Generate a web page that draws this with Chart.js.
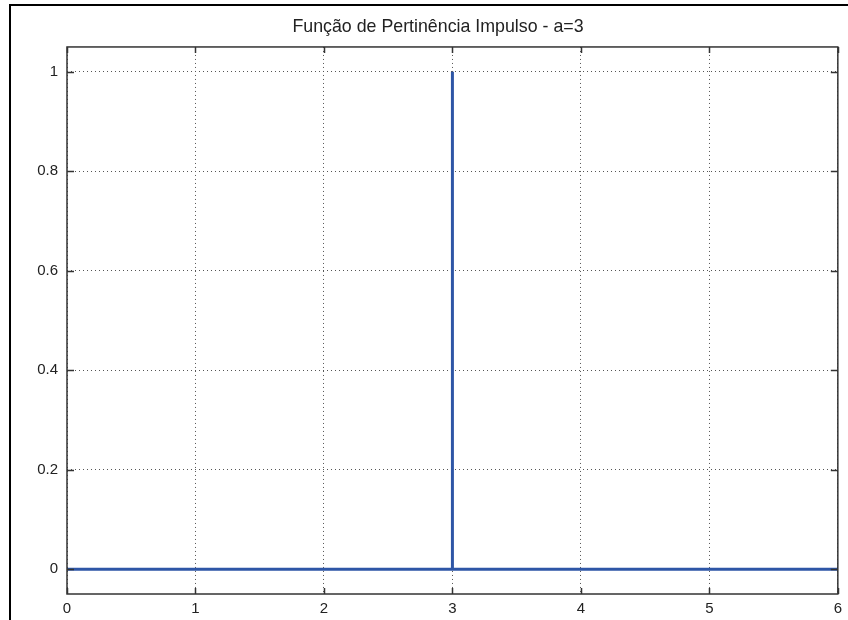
<!DOCTYPE html>
<html>
<head>
<meta charset="utf-8">
<script src="https://cdn.jsdelivr.net/npm/chart.js@4"></script>
<style>
  body { margin: 0; background: #fff; }
  #wrap { width: 848px; height: 620px; }
</style>
</head>
<body>
<div id="wrap"><canvas id="chart" width="848" height="620"></canvas></div>
<script>
const chartTitle = 'Função de Pertinência Impulso - a=3';
const xTicks = [0, 1, 2, 3, 4, 5, 6];
const yTicks = [0, 0.2, 0.4, 0.6, 0.8, 1];
const impulseX = [0, 3, 3, 3, 6];
const impulseY = [0, 0, 1, 0, 0];

const points = impulseX.map((x, i) => ({ x: x, y: impulseY[i] }));

// box round the plot, inward ticks, and the outer window frame
const matlabBox = {
    id: 'matlabBox',
    afterDraw(chart) {
        const { ctx, chartArea, scales } = chart;
        const { left, right, top, bottom } = chartArea;
        ctx.save();
        ctx.strokeStyle = '#333';
        ctx.lineWidth = 1.5;
        ctx.strokeRect(left, top, right - left, bottom - top);

        ctx.beginPath();
        xTicks.forEach(v => {
            const px = Math.round(scales.x.getPixelForValue(v)) + 0.5;
            ctx.moveTo(px, bottom); ctx.lineTo(px, bottom - 6);
            ctx.moveTo(px, top); ctx.lineTo(px, top + 6);
        });
        yTicks.forEach(v => {
            const py = Math.round(scales.y.getPixelForValue(v)) + 0.5;
            ctx.moveTo(left, py); ctx.lineTo(left + 7, py);
            ctx.moveTo(right, py); ctx.lineTo(right - 7, py);
        });
        ctx.stroke();

        ctx.strokeStyle = '#000';
        ctx.lineWidth = 2;
        ctx.beginPath();
        ctx.moveTo(10, chart.height);
        ctx.lineTo(10, 5);
        ctx.lineTo(chart.width, 5);
        ctx.stroke();
        ctx.restore();
    }
};

let ctx = document.getElementById('chart');

let impulseChart = new Chart(ctx, {
    type: 'scatter',
    plugins: [matlabBox],
    data: {
        datasets: [
            {
                data: points,
                showLine: true,
                borderColor: '#2E56A6',
                borderWidth: 3,
                pointRadius: 0,
                pointHoverRadius: 0
            }
        ]
    },
    options: {
        responsive: false,
        animation: false,
        layout: { padding: { left: 36, right: 8, top: 0, bottom: 0 } },
        plugins: {
            legend: { display: false },
            tooltip: { enabled: false },
            title: {
                display: true,
                text: chartTitle,
                color: '#222',
                font: { family: 'Liberation Sans, Arial, sans-serif', size: 17.8, weight: 'normal' },
                padding: { top: 16.5, bottom: 9.1 }
            }
        },
        scales: {
            x: {
                type: 'linear',
                min: 0,
                max: 6,
                afterBuildTicks: scale => { scale.ticks = xTicks.map(v => ({ value: v })); },
                afterFit: scale => { scale.height = 26; },
                ticks: {
                    color: '#222',
                    padding: 6,
                    maxRotation: 0,
                    font: { family: 'Liberation Sans, Arial, sans-serif', size: 15 }
                },
                grid: { color: '#555', lineWidth: 1, drawTicks: false },
                border: { display: false, dash: [1, 3] }
            },
            y: {
                type: 'linear',
                min: -0.05,
                max: 1.05,
                afterBuildTicks: scale => { scale.ticks = yTicks.map(v => ({ value: v })); },
                afterFit: scale => { scale.width = 31; },
                ticks: {
                    color: '#222',
                    padding: 9,
                    font: { family: 'Liberation Sans, Arial, sans-serif', size: 15 },
                    callback: v => String(v)
                },
                grid: { color: '#555', lineWidth: 1, drawTicks: false },
                border: { display: false, dash: [1, 3] }
            }
        }
    }
});
</script>
</body>
</html>
